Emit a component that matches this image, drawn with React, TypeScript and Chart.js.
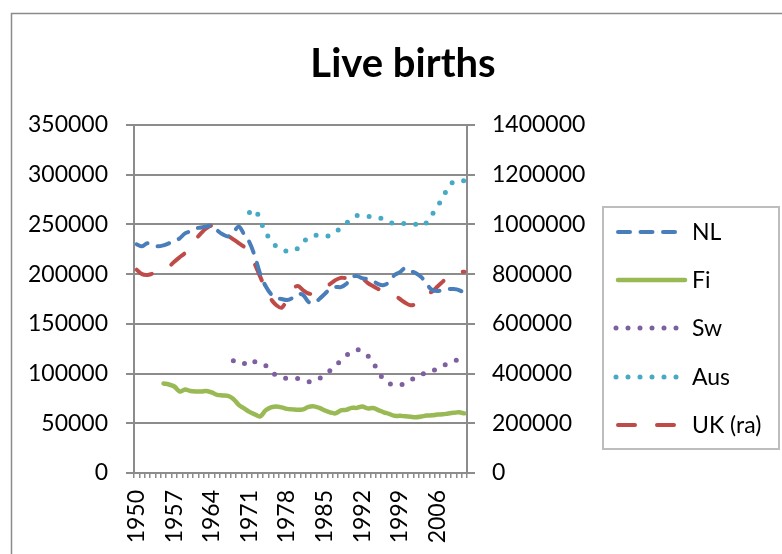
import React, { useEffect, useRef } from 'react';
import { Chart, registerables } from 'chart.js';

Chart.register(...registerables);

const YEARS = [
  '1950', '1951', '1952', '1953', '1954', '1955', '1956', '1957', '1958', '1959',
  '1960', '1961', '1962', '1963', '1964', '1965', '1966', '1967', '1968', '1969',
  '1970', '1971', '1972', '1973', '1974', '1975', '1976', '1977', '1978', '1979',
  '1980', '1981', '1982', '1983', '1984', '1985', '1986', '1987', '1988', '1989',
  '1990', '1991', '1992', '1993', '1994', '1995', '1996', '1997', '1998', '1999',
  '2000', '2001', '2002', '2003', '2004', '2005', '2006', '2007', '2008', '2009',
  '2010', '2011',
];

const NL = [
  230000, 228000, 231000, 229000, 228000, 229000, 231000, 233000, 236000, 241000,
  243000, 246000, 247000, 248000, 249000, 244000, 240000, 238000, 242000, 248000,
  240000, 232000, 218000, 200000, 188000, 180000, 176000, 175000, 174000, 176000,
  180000, 179000, 172000, 171000, 175000, 180000, 185000, 187000, 187000, 190000,
  197000, 198000, 196000, 195000, 193000, 190000, 189000, 192000, 199000, 202000,
  206000, 203000, 201000, 197000, 190000, 184000, 183000, 184000, 185000, 185000,
  184000, 181000,
];

const FI = [
  null, null, null, null, null, 90000, 89000, 87000, 82000, 84000,
  82500, 82000, 82000, 82500, 81000, 78500, 78000, 77500, 74500, 68500,
  65000, 61500, 59000, 57000, 63000, 66000, 67000, 66000, 64500, 64000,
  63500, 64000, 66500, 67000, 65500, 63000, 61000, 60000, 63000, 63500,
  65500, 65500, 66800, 65000, 65300, 63300, 61000, 59500, 57500, 57500,
  57000, 56500, 56000, 56800, 57800, 58000, 58800, 59000, 59800, 60500,
  61000, 60000,
];

const SW = [
  null, null, null, null, null, null, null, null, null, null,
  null, null, null, null, null, null, null, null, 113000, 110000,
  110000, 114000, 112000, 111000, 108000, 103000, 98000, 96000, 95000, 95000,
  95000, 94000, 92000, 92000, 95000, 99000, 103000, 108000, 113000, 118000,
  122000, 124000, 122000, 118000, 111000, 102000, 94000, 90000, 89000, 88000,
  91000, 93000, 97000, 99000, 101000, 102000, 106000, 108000, 110000, 112000,
  115000, null,
];

const AUS = [
  null, null, null, null, null, null, null, null, null, null,
  null, null, null, null, null, null, null, null, null, null,
  null, 262000, 265000, 254000, 242000, 234000, 228000, 225000, 223000, 223000,
  226000, 232000, 237000, 239000, 239000, 238000, 239000, 242000, 247000, 251000,
  256000, 259000, 259000, 258000, 258000, 257000, 255000, 252000, 251000, 251000,
  251000, 251000, 250000, 248000, 252000, 260000, 268000, 277000, 287000, 293000,
  294000, 294000,
];

const UK = [
  818000, 800000, 797000, 802000, 805000, 815000, 830000, 850000, 868000, 885000,
  910000, 940000, 965000, 985000, 995000, 985000, 972000, 955000, 940000, 925000,
  910000, 890000, 840000, 790000, 740000, 700000, 675000, 665000, 700000, 740000,
  752000, 735000, 722000, 722000, 735000, 752000, 760000, 776000, 785000, 785000,
  795000, 798000, 785000, 765000, 752000, 740000, 735000, 728000, 715000, 700000,
  685000, 675000, 680000, 700000, 720000, 730000, 750000, 770000, 790000, 795000,
  808000, 810000,
];

const SERIES_NAMES = ['NL', 'Fi', 'Sw', 'Aus', 'UK (ra)'];
const TITLE = 'Live births';

const FONT = "Lato, 'Open Sans', sans-serif";
const GRID = '#8c8c8c';

const decor = {
  id: 'decor',
  beforeDraw(chart: any) {
    const ctx = chart.ctx;
    ctx.save();
    ctx.fillStyle = '#ffffff';
    ctx.fillRect(0, 0, chart.width, chart.height);
    ctx.strokeStyle = '#8a8a8a';
    ctx.lineWidth = 1.5;
    ctx.strokeRect(11.5, 13.5, chart.width + 40, chart.height + 40);
    ctx.restore();
  },
  afterDraw(chart: any) {
    const ctx = chart.ctx;
    ctx.save();
    // title
    ctx.fillStyle = '#000';
    ctx.font = `bold 40px ${FONT}`;
    ctx.textAlign = 'center';
    ctx.textBaseline = 'alphabetic';
    ctx.fillText(TITLE, 403, 77);

    // legend box
    ctx.strokeStyle = '#bdbdbd';
    ctx.lineWidth = 2;
    ctx.strokeRect(603, 207, 176, 242);

    const ys = [232, 280, 328, 377, 425];
    chart.data.datasets.forEach((ds: any, i: number) => {
      const y = ys[i];
      ctx.save();
      ctx.strokeStyle = ds.borderColor;
      ctx.lineWidth = ds.borderWidth;
      ctx.lineCap = ds.borderCapStyle || 'butt';
      ctx.setLineDash(ds.borderDash || []);
      ctx.beginPath();
      const dashed = (ds.borderDash || []).length > 0;
      const x0 = dashed ? (ds.borderDash[0] === 0 ? 616 : 618) : 618;
      const x1 = dashed ? 677 : 685;
      ctx.moveTo(x0, y);
      ctx.lineTo(x1, y);
      ctx.stroke();
      ctx.restore();
      ctx.fillStyle = '#000';
      ctx.font = `23px ${FONT}`;
      ctx.textAlign = 'left';
      ctx.textBaseline = 'middle';
      ctx.fillText(ds.label, 692, y + 1);
    });
    ctx.restore();
  },
};

export default function App() {
  const ref = useRef<HTMLCanvasElement | null>(null);

  useEffect(() => {
    document.body.style.margin = '0';
    const canvas = ref.current;
    if (!canvas) return;
    const common = { pointRadius: 0, pointHoverRadius: 0, tension: 0.35, fill: false, spanGaps: false };
    const plain = (v: any) => String(v);
    const chart = new Chart(canvas, {
      type: 'line',
      data: {
        labels: YEARS,
        datasets: [
          { ...common, label: SERIES_NAMES[0], data: NL, yAxisID: 'y', borderColor: '#4a7ebb', borderWidth: 4, borderDash: [12, 10.5], borderCapStyle: 'round' },
          { ...common, label: SERIES_NAMES[1], data: FI, yAxisID: 'y', borderColor: '#98b954', borderWidth: 4.5, borderCapStyle: 'round' },
          { ...common, label: SERIES_NAMES[2], data: SW, yAxisID: 'y', borderColor: '#7d60a0', borderWidth: 5, borderDash: [0, 12], borderCapStyle: 'round' },
          { ...common, label: SERIES_NAMES[3], data: AUS, yAxisID: 'y', borderColor: '#46aac5', borderWidth: 5, borderDash: [0, 12], borderCapStyle: 'round' },
          { ...common, label: SERIES_NAMES[4], data: UK, yAxisID: 'y1', borderColor: '#be4b48', borderWidth: 4, borderDash: [17, 22], borderCapStyle: 'round' },
        ] as any,
      },
      options: {
        responsive: false,
        animation: false,
        events: [],
        layout: { padding: { top: 125, left: 0, right: 0, bottom: 0 } },
        plugins: { legend: { display: false }, title: { display: false }, tooltip: { enabled: false } },
        scales: {
          x: {
            type: 'category',
            offset: true,
            grid: { offset: true, drawOnChartArea: false, drawTicks: true, tickLength: 5, color: GRID, lineWidth: 1.5 },
            border: { display: true, color: GRID, width: 2 },
            ticks: {
              autoSkip: false,
              minRotation: 90,
              maxRotation: 90,
              padding: 12,
              color: '#000',
              font: { family: FONT, size: 23 },
              callback: function (this: any, value: any, index: number) {
                return index % 7 === 0 ? this.getLabelForValue(value) : '';
              },
            },
            afterFit: (s: any) => { s.height = 81; },
          },
          y: {
            position: 'left',
            min: 0,
            max: 350000,
            grid: { color: GRID, lineWidth: 2, tickLength: 8, drawTicks: true },
            border: { display: true, color: GRID, width: 2 },
            ticks: { stepSize: 50000, padding: 18, color: '#000', font: { family: FONT, size: 23 }, callback: plain },
            afterFit: (s: any) => { s.width = 134; },
          },
          y1: {
            position: 'right',
            min: 0,
            max: 1400000,
            grid: { drawOnChartArea: false, color: GRID, lineWidth: 2, tickLength: 8, drawTicks: true },
            border: { display: true, color: GRID, width: 2 },
            ticks: { stepSize: 200000, padding: 17, color: '#000', font: { family: FONT, size: 23 }, callback: plain },
            afterFit: (s: any) => { s.width = 315; },
          },
        },
      },
      plugins: [decor],
    });
    return () => chart.destroy();
  }, []);

  return (
    <div style={{ width: 782, height: 554 }}>
      <canvas ref={ref} width={782} height={554} style={{ display: 'block' }} />
    </div>
  );
}
